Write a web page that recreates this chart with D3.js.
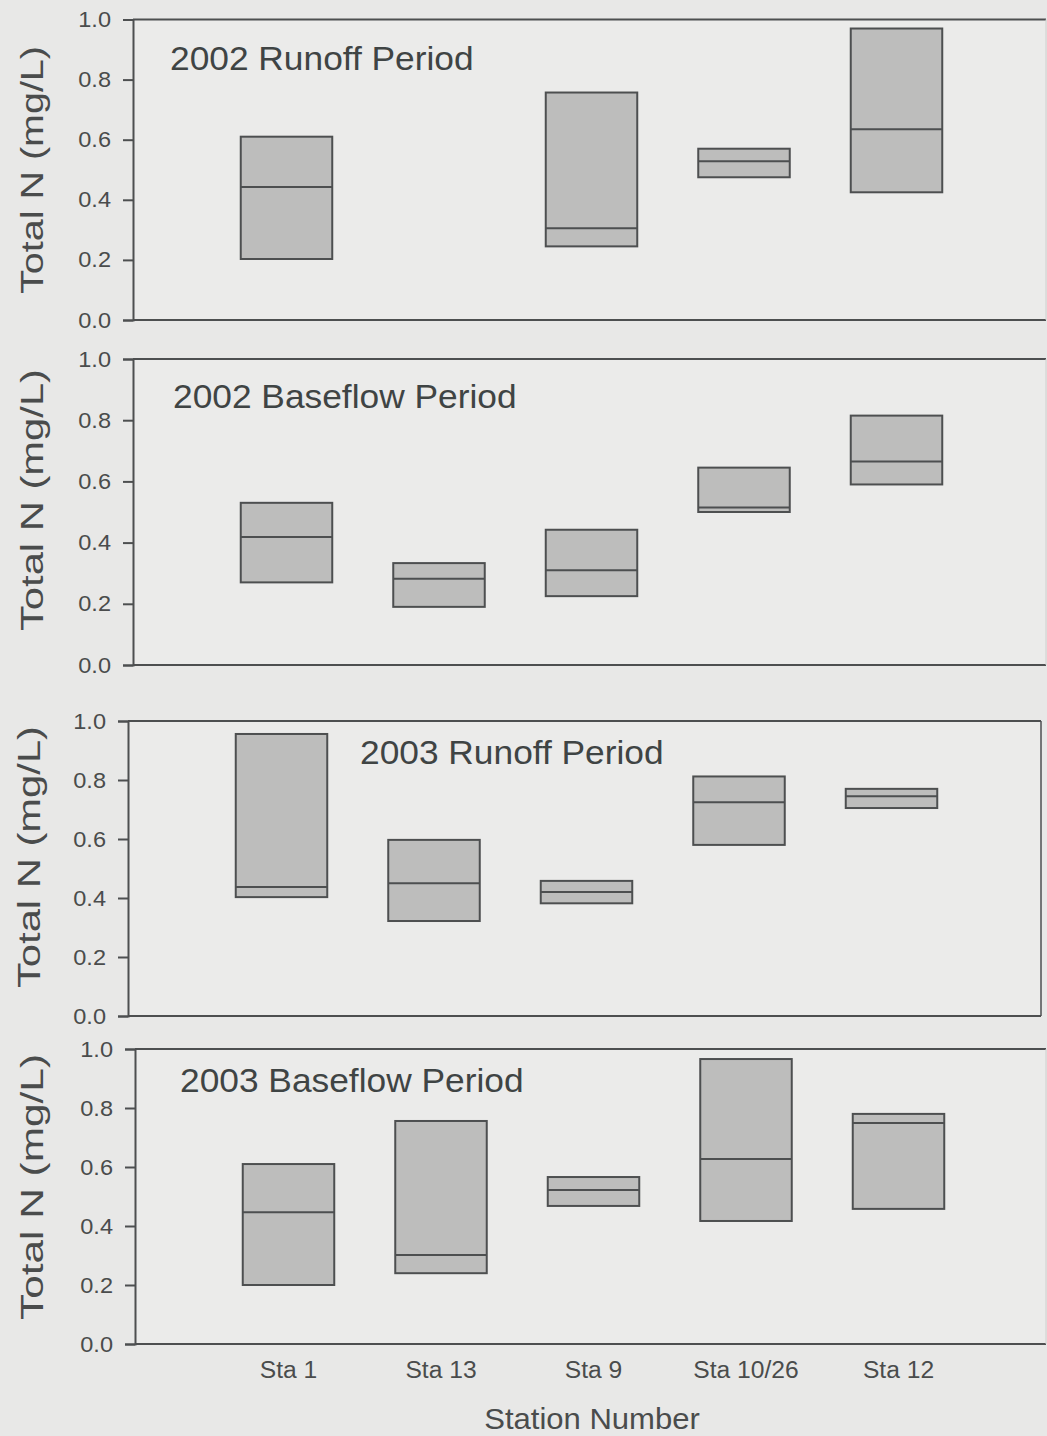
<!DOCTYPE html>
<html><head><meta charset="utf-8">
<script src="https://cdn.jsdelivr.net/npm/d3@7"></script>
<style>
html,body{margin:0;padding:0;background:#e8e8e7;}
svg{display:block;}
text{font-family:"Liberation Sans",Arial,sans-serif;}
</style></head>
<body>
<script>
// ---- data ----
const stations = ["Sta 1", "Sta 13", "Sta 9", "Sta 10/26", "Sta 12"];
const panelTitles = ["2002 Runoff Period", "2002 Baseflow Period", "2003 Runoff Period", "2003 Baseflow Period"];
const yTicks = [0, 0.2, 0.4, 0.6, 0.8, 1.0];
const yLabel = "Total N (mg/L)";
const xLabel = "Station Number";
// per panel, per station (null = no data)
const boxLow = [
  [0.203, null, 0.245, 0.475, 0.425],
  [0.270, 0.190, 0.225, 0.500, 0.590],
  [0.403, 0.322, 0.382, 0.580, 0.705],
  [0.200, 0.240, 0.468, 0.417, 0.458]
];
const boxMedian = [
  [0.443, null, 0.305, 0.528, 0.635],
  [0.418, 0.282, 0.310, 0.515, 0.665],
  [0.437, 0.450, 0.420, 0.725, 0.745],
  [0.447, 0.302, 0.522, 0.627, 0.749]
];
const boxHigh = [
  [0.610, null, 0.757, 0.570, 0.970],
  [0.530, 0.333, 0.442, 0.645, 0.815],
  [0.956, 0.597, 0.458, 0.812, 0.770],
  [0.610, 0.756, 0.566, 0.966, 0.780]
];

// ---- layout ----
const W = 1047, H = 1436;
const layout = [
  {axisX: 133, top: 19.5, bottom: 320, right: 1046, titleX: 170, titleY: 70, labelY: 170, labelLen: 248},
  {axisX: 133, top: 359, bottom: 665, right: 1046, titleX: 173, titleY: 408, labelY: 500, labelLen: 262},
  {axisX: 128, top: 721, bottom: 1016, right: 1041, titleX: 360, titleY: 764, labelY: 857, labelLen: 262},
  {axisX: 135, top: 1049, bottom: 1344, right: 1046, titleX: 180, titleY: 1092, labelY: 1187, labelLen: 266}
];
const step = 152.5;
const stretch = 1.07;
const fillC = "#bdbdbc", strokeC = "#4d4f50", textC = "#4a4c4c";

const svg = d3.select("body").append("svg").attr("width", W).attr("height", H);

function widen(sel) {
  sel.each(function () {
    const w = this.getComputedTextLength();
    d3.select(this).attr("textLength", w * stretch).attr("lengthAdjust", "spacingAndGlyphs");
  });
}

layout.forEach((L, p) => {
  const y = d3.scaleLinear().domain([0, 1]).range([L.bottom, L.top]);
  const x = d3.scalePoint().domain(stations)
    .range([L.axisX + 153.5, L.axisX + 153.5 + step * (stations.length - 1)]);
  const bw = step * 0.6;
  const g = svg.append("g");

  // plot area background
  g.append("rect").attr("x", L.axisX).attr("y", L.top)
    .attr("width", L.right - L.axisX).attr("height", L.bottom - L.top)
    .attr("fill", "#ebebea").attr("stroke", "none");

  // frame: top, bottom, right
  g.append("line").attr("x1", L.axisX).attr("x2", L.right).attr("y1", L.top).attr("y2", L.top)
    .attr("stroke", strokeC).attr("stroke-width", 2);
  g.append("line").attr("x1", L.axisX).attr("x2", L.right).attr("y1", L.bottom).attr("y2", L.bottom)
    .attr("stroke", strokeC).attr("stroke-width", 2);
  g.append("line").attr("x1", L.right).attr("x2", L.right).attr("y1", L.top).attr("y2", L.bottom)
    .attr("stroke", p === 2 ? strokeC : "#cfcfce").attr("stroke-width", p === 2 ? 1.5 : 1);

  // y axis
  const yAxis = d3.axisLeft(y).tickValues(yTicks).tickFormat(d3.format(".1f"))
    .tickSize(10).tickPadding(12);
  const ya = g.append("g").attr("transform", `translate(${L.axisX},0)`).call(yAxis);
  ya.select(".domain").attr("stroke", strokeC).attr("stroke-width", 2);
  ya.selectAll(".tick line").attr("stroke", strokeC).attr("stroke-width", 2);
  ya.selectAll(".tick text").attr("fill", textC).attr("font-size", 22)
    .attr("font-family", "'Liberation Sans', Arial, sans-serif").call(widen);

  // y label
  g.append("text")
    .attr("transform", `translate(${p === 2 ? 40 : 43},${L.labelY}) rotate(-90)`)
    .attr("text-anchor", "middle").attr("font-size", 31).attr("fill", textC)
    .attr("textLength", L.labelLen).attr("lengthAdjust", "spacingAndGlyphs")
    .text(yLabel);

  // title
  g.append("text").attr("x", L.titleX).attr("y", L.titleY)
    .attr("font-size", 33).attr("fill", "#3f4444").text(panelTitles[p]).call(widen);

  // boxes
  stations.forEach((s, i) => {
    const lo = boxLow[p][i], md = boxMedian[p][i], hi = boxHigh[p][i];
    if (lo == null) return;
    const cx = x(s);
    g.append("rect").attr("x", cx - bw / 2).attr("y", y(hi))
      .attr("width", bw).attr("height", y(lo) - y(hi))
      .attr("fill", fillC).attr("stroke", strokeC).attr("stroke-width", 2);
    g.append("line").attr("x1", cx - bw / 2).attr("x2", cx + bw / 2)
      .attr("y1", y(md)).attr("y2", y(md))
      .attr("stroke", strokeC).attr("stroke-width", 2);
  });

  // x labels only on the last panel
  if (p === layout.length - 1) {
    stations.forEach(s => {
      g.append("text").attr("x", x(s)).attr("y", L.bottom + 34)
        .attr("text-anchor", "middle").attr("font-size", 23).attr("fill", textC)
        .text(s).call(widen);
    });
    g.append("text").attr("x", 592).attr("y", 1429)
      .attr("text-anchor", "middle").attr("font-size", 29).attr("fill", textC)
      .text(xLabel).call(widen);
  }
});
</script>
</body></html>
